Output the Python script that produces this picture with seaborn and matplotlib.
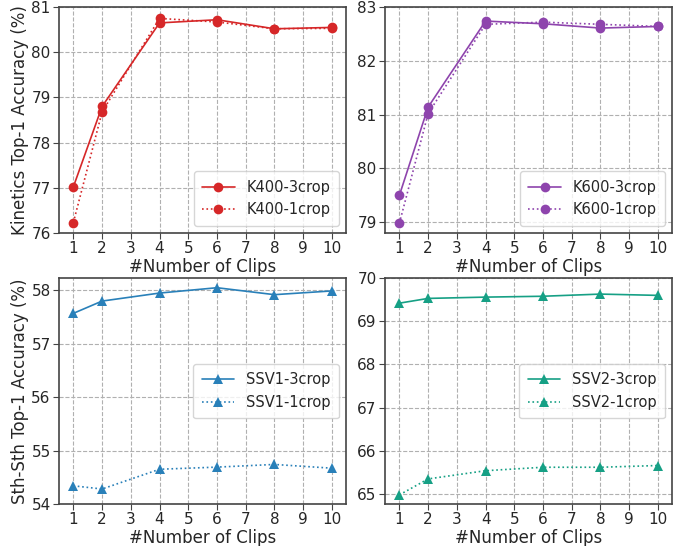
import pandas as pd
import matplotlib
matplotlib.use('Agg')
import matplotlib.pyplot as plt
import seaborn as sns

clips = [1, 2, 4, 6, 8, 10]

k400_3crop = [77.02, 78.80, 80.65, 80.72, 80.52, 80.55]
k400_1crop = [76.23, 78.68, 80.75, 80.67, 80.52, 80.53]
k600_3crop = [79.50, 81.14, 82.74, 82.69, 82.61, 82.64]
k600_1crop = [78.98, 81.02, 82.68, 82.72, 82.68, 82.64]
ssv1_3crop = [57.57, 57.80, 57.95, 58.05, 57.92, 57.99]
ssv1_1crop = [54.34, 54.28, 54.65, 54.69, 54.74, 54.67]
ssv2_3crop = [69.42, 69.53, 69.56, 69.58, 69.63, 69.60]
ssv2_1crop = [64.98, 65.35, 65.54, 65.62, 65.62, 65.66]

sns.set_style('whitegrid')
plt.rcParams['font.family'] = ['DejaVu Sans']

panels = [
    ('K400', k400_3crop, k400_1crop, '#d62728', 'o', (76, 81), 'lower right'),
    ('K600', k600_3crop, k600_1crop, '#8e44ad', 'o', (78.8, 83), 'lower right'),
    ('SSV1', ssv1_3crop, ssv1_1crop, '#2980b9', '^', (54, 58.23), 'center right'),
    ('SSV2', ssv2_3crop, ssv2_1crop, '#16a085', '^', (64.77, 70), 'center right'),
]
ylabels = ['Kinetics Top-1 Accuracy (%)', None, 'Sth-Sth Top-1 Accuracy (%)', None]

fig, axes = plt.subplots(2, 2, figsize=(6.86, 5.46), dpi=100)
fig.subplots_adjust(left=0.086, right=0.98, top=0.987, bottom=0.077, wspace=0.135, hspace=0.2)

for ax, (name, v3, v1, color, mk, ylim, loc), ylab in zip(axes.flat, panels, ylabels):
    sns.lineplot(x=clips, y=v3, ax=ax, color=color, marker=mk, markersize=7,
                 markeredgewidth=0, linestyle='-', linewidth=1.2, label=name + '-3crop')
    sns.lineplot(x=clips, y=v1, ax=ax, color=color, marker=mk, markersize=7,
                 markeredgewidth=0, linestyle=':', linewidth=1.2, label=name + '-1crop')
    ax.set_xlim(0.5, 10.5)
    ax.set_ylim(*ylim)
    ax.set_xticks(range(1, 11))
    ax.grid(True, linestyle='--', color='#b0b0b0', linewidth=0.8)
    for s in ax.spines.values():
        s.set_color('#444444')
        s.set_linewidth(1.2)
    ax.tick_params(axis='both', labelsize=11, length=4, color='#444444', direction='out',
                   bottom=True, left=True, pad=2)
    ax.set_xlabel('#Number of Clips', fontsize=12, labelpad=1)
    if ylab:
        ax.set_ylabel(ylab, fontsize=12, labelpad=2)
    ax.legend(loc=loc, fontsize=10.5, frameon=True, framealpha=0.8, handlelength=2.2,
              borderpad=0.6)

plt.savefig('out.png', dpi=100)
